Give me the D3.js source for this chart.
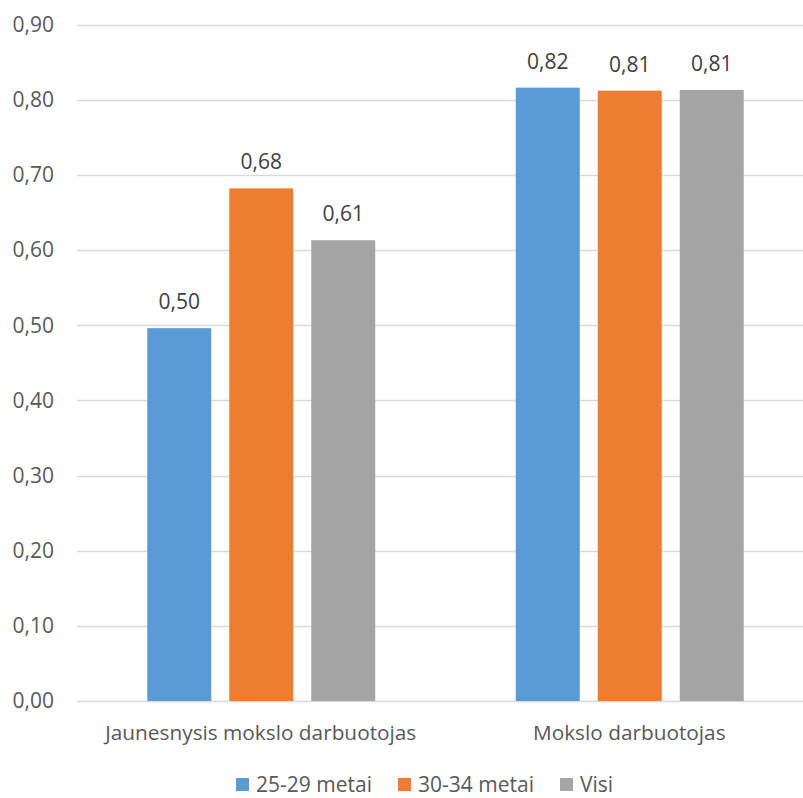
<!DOCTYPE html>
<html><head><meta charset="utf-8">
<script src="https://cdn.jsdelivr.net/npm/d3@7"></script>
<style>body{margin:0;background:#fff}</style>
</head><body>
<svg id="c" width="803" height="798"></svg>
<script>
const categories = ["Jaunesnysis mokslo darbuotojas", "Mokslo darbuotojas"];
const seriesNames = ["25-29 metai", "30-34 metai", "Visi"];
const s2529 = [0.496, 0.816];
const s3034 = [0.682, 0.812];
const sVisi = [0.613, 0.813];
const yTicks = [0, 0.1, 0.2, 0.3, 0.4, 0.5, 0.6, 0.7, 0.8, 0.9];
const colors = ["#5B9BD5", "#ED7D31", "#A5A5A5"];
const seriesVals = [s2529, s3034, sVisi];

const font = "'Open Sans', sans-serif";
const svg = d3.select("#c");
const y = d3.scaleLinear().domain([0, 0.9]).range([701, 24.5]);
const x0 = d3.scaleBand().domain(categories).range([77, 814]).padding(0);
const x1 = d3.scaleBand().domain(seriesNames).range([0, x0.bandwidth()]).paddingInner(0.2195).paddingOuter(0.857);
const fmt = v => d3.format(".2f")(v).replace(".", ",");

// grid
svg.append("g").selectAll("line").data(yTicks).join("line")
  .attr("x1", 77).attr("x2", 803)
  .attr("y1", d => Math.round(y(d)) + 0.5).attr("y2", d => Math.round(y(d)) + 0.5)
  .attr("stroke", "#D9D9D9").attr("stroke-width", 1.3);

// y labels
svg.append("g").selectAll("text").data(yTicks).join("text")
  .attr("x", 54).attr("y", d => y(d)).attr("dy", "0.35em")
  .attr("text-anchor", "end").attr("font-family", font).attr("font-size", 21)
  .attr("fill", "#595959").text(d => fmt(d));

// bars
const rows = [];
categories.forEach((c, i) => seriesNames.forEach((s, j) => rows.push({c, s, v: seriesVals[j][i], col: colors[j]})));
svg.append("g").selectAll("rect").data(rows).join("rect")
  .attr("x", d => x0(d.c) + x1(d.s)).attr("width", x1.bandwidth())
  .attr("y", d => y(d.v)).attr("height", d => y(0) - y(d.v))
  .attr("fill", d => d.col);

// value labels
svg.append("g").selectAll("text").data(rows).join("text")
  .attr("x", d => x0(d.c) + x1(d.s) + x1.bandwidth() / 2).attr("y", d => y(d.v) - 19)
  .attr("text-anchor", "middle").attr("font-family", font).attr("font-size", 21)
  .attr("fill", "#404040").text(d => fmt(d.v));

// category labels
svg.append("g").selectAll("text").data(categories).join("text")
  .attr("x", d => x0(d) + x0.bandwidth() / 2 - 0.5).attr("y", 740)
  .attr("text-anchor", "middle").attr("font-family", font).attr("font-size", 20.8)
  .attr("fill", "#595959").text(d => d);

// legend
const legX = [236, 398, 560];
const lg = svg.append("g").selectAll("g").data(seriesNames).join("g")
  .attr("transform", (d, i) => `translate(${legX[i]},778)`);
lg.append("rect").attr("width", 13).attr("height", 13).attr("fill", (d, i) => colors[i]);
lg.append("text").attr("x", 20).attr("y", 6.5).attr("dy", "0.35em")
  .attr("font-family", font).attr("font-size", 21).attr("fill", "#595959").text(d => d);
</script>
</body></html>
